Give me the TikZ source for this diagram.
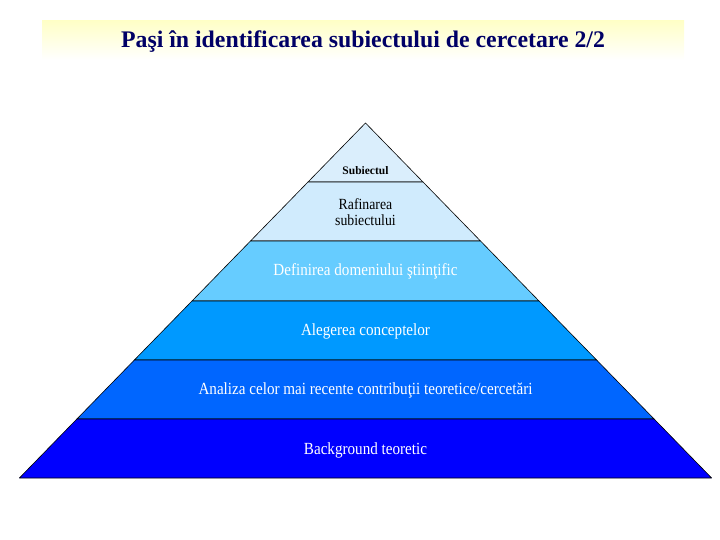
\documentclass[tikz,border=0pt]{standalone}
\usepackage{fontspec}
\setmainfont{Liberation Serif}
\newfontfamily\narrowserif[FakeStretch=0.89]{Liberation Serif}
\definecolor{titleblue}{RGB}{0,0,102}
\definecolor{levelA}{RGB}{218,238,252}
\definecolor{levelB}{RGB}{208,235,253}
\definecolor{levelC}{RGB}{102,204,255}
\definecolor{levelD}{RGB}{0,153,255}
\definecolor{levelE}{RGB}{0,102,255}
\definecolor{levelF}{RGB}{0,0,255}
\tikzset{
  layer/.style={draw=black, line width=0.6pt, line join=round},
  lvltext/.style={font=\narrowserif\fontsize{17}{19}\selectfont, text=white, align=center},
}
\begin{document}
\begin{tikzpicture}[x=1pt, y=-1pt]
  \useasboundingbox (0, 0) rectangle (720, 540);
  \shade[top color=yellow!22, bottom color=white] (42, 21) rectangle (684, 60);

  \filldraw[layer, fill=levelA] (365.5, 123) -- (423, 182) -- (308, 182) -- cycle;
  \filldraw[layer, fill=levelB] (308, 182) -- (423, 182) -- (480.5, 241) -- (250.5, 241) -- cycle;
  \filldraw[layer, fill=levelC] (250.5, 241) -- (480.5, 241) -- (539, 301) -- (192, 301) -- cycle;
  \filldraw[layer, fill=levelD] (192, 301) -- (539, 301) -- (596.6, 360) -- (134.4, 360) -- cycle;
  \filldraw[layer, fill=levelE] (134.4, 360) -- (596.6, 360) -- (654.1, 419) -- (76.9, 419) -- cycle;
  \filldraw[layer, fill=levelF] (76.9, 419) -- (654.1, 419) -- (711.6, 478) -- (19.4, 478) -- cycle;

  \node[font=\bfseries\fontsize{23.8}{28}\selectfont, text=titleblue] (title) at (363, 42) {Paşi în identificarea subiectului de cercetare 2/2};

  \node[font=\bfseries\fontsize{11.5}{13}\selectfont] (subiect) at (365.5, 171) {Subiectul};
  \node[lvltext, text=black, font=\narrowserif\fontsize{15.5}{15.5}\selectfont] (rafinare) at (365.5, 212) {Rafinarea\\subiectului};
  \node[lvltext] (domeniu) at (365.5, 271) {Definirea domeniului ştiinţific};
  \node[lvltext] (concepte) at (365.5, 331) {Alegerea conceptelor};
  \node[lvltext] (analiza) at (365.5, 390) {Analiza celor mai recente contribuţii teoretice/cercetări};
  \node[lvltext] (fond) at (365.5, 450) {Background teoretic};
\end{tikzpicture}
\end{document}
